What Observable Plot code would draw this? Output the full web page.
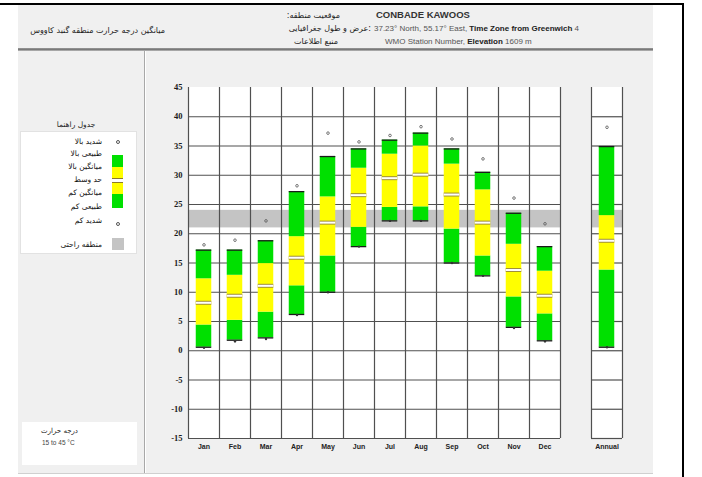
<!DOCTYPE html>
<html><head><meta charset="utf-8">
<script src="https://cdn.jsdelivr.net/npm/d3@7"></script>
<script src="https://cdn.jsdelivr.net/npm/@observablehq/plot@0.6"></script>
<style>
body{margin:0;background:#fff;}
#wrap{position:relative;width:702px;height:477px;overflow:hidden;font-family:"Liberation Sans","DejaVu Sans",Arial,sans-serif;color:#222;}
.a{position:absolute;white-space:nowrap;line-height:1;}
.fa{direction:rtl;font-family:"DejaVu Sans",sans-serif;}
#chart{position:absolute;left:0;top:0;}
</style></head><body><div id="wrap">
<div class="a" style="left:18px;top:5px;width:635px;height:469px;background:#f0f0f0;"></div>
<div class="a" style="left:0;top:3px;width:684px;height:2px;background:#000;"></div>
<div class="a" style="left:682px;top:3px;width:2px;height:474px;background:#000;"></div>
<div class="a" style="left:18px;top:48px;width:635px;height:3px;background:linear-gradient(#9a9a9a,#7a7a7a,#bdbdbd);"></div>
<div class="a" style="left:144px;top:51px;width:1px;height:423px;background:#a8a8a8;"></div>
<div class="a" style="left:145px;top:51px;width:1px;height:423px;background:#fff;"></div>
<div class="a" style="left:18px;top:473px;width:635px;height:1px;background:#d0d0d0;"></div>
<div id="hdr"></div>
<div id="legend"></div>
<div id="chart"></div>
</div>
<script>
// ---- data ----
const labels = ["Jan","Feb","Mar","Apr","May","Jun","Jul","Aug","Sep","Oct","Nov","Dec","Annual"];
const extremeHigh = [18.1,18.9,22.2,28.2,37.2,35.7,36.8,38.3,36.2,32.8,26.1,21.7,38.2];
const normalHigh  = [17.2,17.2,18.8,27.2,33.2,34.5,36.0,37.2,34.5,30.5,23.5,17.8,34.9];
const meanHigh    = [12.3,12.9,14.9,19.5,26.3,31.2,33.6,35.0,31.9,27.5,18.2,13.6,23.1];
const middle      = [8.2,9.4,11.1,15.9,21.9,26.6,29.5,30.1,26.7,21.9,13.8,9.4,18.8];
const meanLow     = [4.4,5.2,6.6,11.1,16.2,21.1,24.5,24.6,20.8,16.2,9.2,6.3,13.8];
const normalLow   = [0.6,1.8,2.2,6.2,10.0,17.8,22.2,22.2,15.0,12.8,4.0,1.7,0.6];
const extremeLow  = [0.5,1.6,2.0,6.1,10.0,17.8,22.2,22.2,15.0,12.8,3.9,1.6,0.6];
const comfortZone = [21, 24];
const yTicks = [-15,-10,-5,0,5,10,15,20,25,30,35,40,45];
const legendLabels = ["شدید بالا","طبیعی بالا","میانگین بالا","حد وسط","میانگین کم","طبیعی کم","شدید کم","منطقه راحتی"];

const GREEN = "#00e000", YELLOW = "#ffff00", BAND = "#c4c4c4";

// slots: months 0..11, gap at 12, annual at 13
const rows = labels.map((name, i) => ({
  name, slot: i < 12 ? i : 13,
  eh: extremeHigh[i], nh: normalHigh[i], mh: meanHigh[i], mid: middle[i],
  ml: meanLow[i], nl: normalLow[i], el: extremeLow[i]
}));
const panels = [{x1: 0, x2: 12}, {x1: 13, x2: 14}];
const hGrid = panels.flatMap(p => yTicks.filter(t => t < d3.max(yTicks)).map(t => ({...p, y: t})));
const vGrid = d3.range(0, 13).concat([13, 14]);
const bx1 = d => d.slot + 0.25, bx2 = d => d.slot + 0.75;

const chart = Plot.plot({
  width: 702, height: 477,
  marginLeft: 188, marginRight: 80, marginTop: 87, marginBottom: 39,
  x: {domain: [0, 14], axis: null},
  y: {domain: [d3.min(yTicks), d3.max(yTicks)], axis: null},
  style: {background: "transparent", fontFamily: "Liberation Sans, Arial, sans-serif"},
  marks: [
    Plot.rect(panels, {x1: "x1", x2: "x2", y1: d3.min(yTicks), y2: d3.max(yTicks), fill: "white"}),
    Plot.rect(panels, {x1: "x1", x2: "x2", y1: comfortZone[0], y2: comfortZone[1], fill: BAND}),
    Plot.ruleY(hGrid, {x1: "x1", x2: "x2", y: "y", stroke: "#505050", strokeWidth: 1.2}),
    Plot.ruleX(vGrid, {y1: d3.min(yTicks), y2: d3.max(yTicks), stroke: "#505050", strokeWidth: 1.2}),
    Plot.rect(rows, {x1: bx1, x2: bx2, y1: "nl", y2: "ml", fill: GREEN}),
    Plot.rect(rows, {x1: bx1, x2: bx2, y1: "ml", y2: "mh", fill: YELLOW}),
    Plot.rect(rows, {x1: bx1, x2: bx2, y1: "mh", y2: "nh", fill: GREEN}),
    Plot.ruleY(rows, {x1: bx1, x2: bx2, y: "nh", stroke: "#1a1a1a", strokeWidth: 1.3}),
    Plot.ruleY(rows, {x1: bx1, x2: bx2, y: "nl", stroke: "#1a1a1a", strokeWidth: 1.3}),
    Plot.ruleY(rows, {x1: bx1, x2: bx2, y: "mid", stroke: "#a08f3a", strokeWidth: 4}),
    Plot.ruleY(rows, {x1: bx1, x2: bx2, y: "mid", stroke: "white", strokeWidth: 2}),
    Plot.dot(rows, {x: d => d.slot + 0.5, y: "eh", r: 1.3, stroke: "#555", strokeWidth: 0.8, fill: "none"}),
    Plot.dot(rows, {x: d => d.slot + 0.5, y: "el", r: 1.2, fill: "#333", stroke: "none"}),
    Plot.axisY(yTicks, {tickSize: 0, tickPadding: 6, tickFormat: d => String(d), fontSize: 8.5, fontWeight: "bold", fontFamily: "Liberation Serif, serif", fill: "#1a1a1a"}),
    Plot.text(rows, {x: d => d.slot + 0.5, y: d3.min(yTicks), dy: 8, text: "name", fontSize: 7, fontWeight: "bold", fill: "#222"})
  ]
});
document.getElementById("chart").appendChild(chart);

// ---- header ----
const hdr = document.getElementById("hdr");
function txt(parent, html, css, cls) {
  const el = document.createElement("div");
  el.className = "a " + (cls || "");
  el.style.cssText = css;
  el.innerHTML = html;
  parent.appendChild(el);
  return el;
}
txt(hdr, "میانگین درجه حرارت منطقه گنبد کاووس", "right:537px;top:27px;font-size:8px;", "fa");
txt(hdr, "موقعیت منطقه:", "right:362px;top:12px;font-size:8px;", "fa");
txt(hdr, ":عرض و طول جغرافیایی", "right:331px;top:25px;font-size:8px;", "fa");
txt(hdr, "منبع اطلاعات", "right:364px;top:38px;font-size:8px;", "fa");
txt(hdr, "CONBADE KAWOOS", "left:376px;top:10px;font-size:9.5px;font-weight:bold;color:#333;");
txt(hdr, "37.23° North, 55.17° East, <b style='color:#222'>Time Zone from Greenwich</b> 4", "left:374px;top:25px;font-size:8px;color:#555;");
txt(hdr, "WMO Station Number, <b style='color:#222'>Elevation</b> 1609 m", "left:385px;top:38px;font-size:8px;color:#555;");

// ---- legend ----
const lg = document.getElementById("legend");
txt(lg, "جدول راهنما", "left:50px;width:52px;text-align:center;top:121px;font-size:7.5px;direction:rtl;", "fa");
txt(lg, "", "left:20px;top:131px;width:117px;height:123px;background:#fff;border:1px solid #e2e2e2;box-sizing:border-box;");
const rowY = [142,154,167,180,193,207,221,245];
legendLabels.forEach((t, i) => {
  txt(lg, t, `right:${702-102}px;top:${rowY[i]-4}px;font-size:7.5px;color:#111;`, "fa");
});
// legend bar
const seg = [[155,167,GREEN],[167,178,YELLOW],[178,183,"#fff"],[183,194,YELLOW],[194,208,GREEN]];
seg.forEach(([a,b,c]) => txt(lg, "", `left:112px;top:${a}px;width:11px;height:${b-a}px;background:${c};`));
txt(lg, "", "left:112px;top:178px;width:11px;height:1px;background:#8c7a2a;");
txt(lg, "", "left:112px;top:182px;width:11px;height:1px;background:#8c7a2a;");
txt(lg, "", "left:116px;top:140px;width:2px;height:2px;border:0.8px solid #555;border-radius:50%;");
txt(lg, "", "left:116px;top:222px;width:2px;height:2px;border:0.8px solid #555;border-radius:50%;");
txt(lg, "", `left:112px;top:238px;width:12px;height:12px;background:${BAND};`);
// bottom box
txt(lg, "", "left:22px;top:422px;width:115px;height:43px;background:#fff;");
txt(lg, "درجه حرارت", "right:624px;top:428px;font-size:7px;", "fa");
txt(lg, "15 to 45 °C", "left:42px;top:440px;font-size:6.5px;color:#444;");
</script>
</body></html>
